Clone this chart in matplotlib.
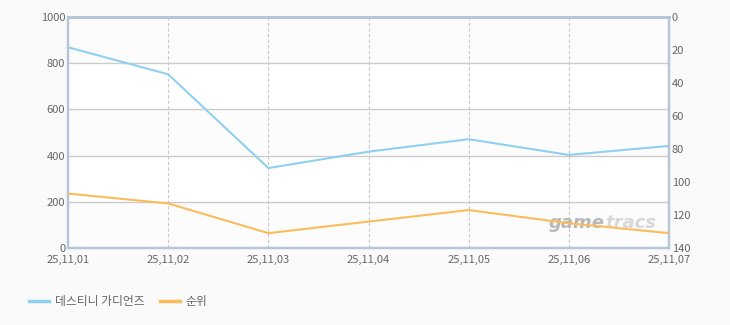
import matplotlib
matplotlib.use('Agg')
import matplotlib.pyplot as plt
from matplotlib.lines import Line2D

plt.rcParams['font.family'] = ['Noto Sans CJK KR', 'DejaVu Sans']

dates = ['25,11,01', '25,11,02', '25,11,03', '25,11,04', '25,11,05', '25,11,06', '25,11,07']
game_values = [869, 752, 346, 417, 471, 403, 442]
rank_values = [107, 113, 131, 124, 117, 125, 131]
left_ticks = [0, 200, 400, 600, 800, 1000]
right_ticks = [0, 20, 40, 60, 80, 100, 120, 140]

blue = '#8fd0f0'
orange = '#fcbc5c'
spine_c = '#b4c6d8'
text_c = '#666666'

fig = plt.figure(figsize=(7.3, 3.25), dpi=100, facecolor='#fafafa')
ax = fig.add_axes([68 / 730, 77 / 325, 601 / 730, 231 / 325])
ax.set_facecolor('#ffffff')

x = list(range(len(dates)))
ax.set_xlim(0, len(dates) - 1)
ax.set_ylim(0, 1000)

# alternating bands
for i, lo in enumerate(left_ticks[:-1]):
    if i % 2 == 0:
        ax.axhspan(lo, lo + 200, color='#fcfcfc', zorder=0, lw=0)

for v in left_ticks[1:-1]:
    ax.axhline(v, color='#cccccc', lw=1, zorder=1)
for xi in x[1:-1]:
    ax.axvline(xi, color='#c8c8c8', lw=0.8, ls=(0, (3, 2)), zorder=1)

ax.plot(x, game_values, color=blue, lw=1.5, zorder=3, solid_joinstyle='miter')

ax2 = ax.twinx()
ax2.set_ylim(140, 0)
ax2.plot(x, rank_values, color=orange, lw=1.5, zorder=3, solid_joinstyle='miter')

for a in (ax, ax2):
    for s in a.spines.values():
        s.set_color(spine_c)
    a.spines['top'].set_linewidth(2)
    a.spines['left'].set_linewidth(1.6)
    a.spines['right'].set_linewidth(1.6)
    a.spines['bottom'].set_linewidth(1.6)
    a.tick_params(length=0, labelsize=8, colors=text_c, pad=2)
ax.tick_params(axis='x', pad=5)

ax.set_yticks(left_ticks)
ax.set_yticklabels([str(v) for v in left_ticks])
ax2.set_yticks(right_ticks)
ax2.set_yticklabels([str(v) for v in right_ticks])
ax.set_xticks(x)
ax.set_xticklabels(dates)

# watermark
wm_x = (605 - 68) / 601
ax.text(wm_x, 0.085, 'game', transform=ax.transAxes, ha='right', va='baseline',
        fontsize=13, fontweight='bold', style='italic', color='#b8b8b8',
        family='DejaVu Sans', zorder=2)
ax.text(wm_x, 0.085, 'tracs', transform=ax.transAxes, ha='left', va='baseline',
        fontsize=13, fontweight='bold', style='italic', color='#d8d8d8',
        family='DejaVu Sans', zorder=2)

handles = [Line2D([], [], color=blue, lw=2.5), Line2D([], [], color=orange, lw=2.5)]
fig.legend(handles, ['데스티니 가디언즈', '순위'], loc='lower left',
           bbox_to_anchor=(0.025, 0.02), ncol=2, frameon=False, fontsize=8.5,
           labelcolor=text_c, handlelength=1.7, handletextpad=0.5, columnspacing=1.3)

fig.savefig('out.png', dpi=100, facecolor=fig.get_facecolor())
